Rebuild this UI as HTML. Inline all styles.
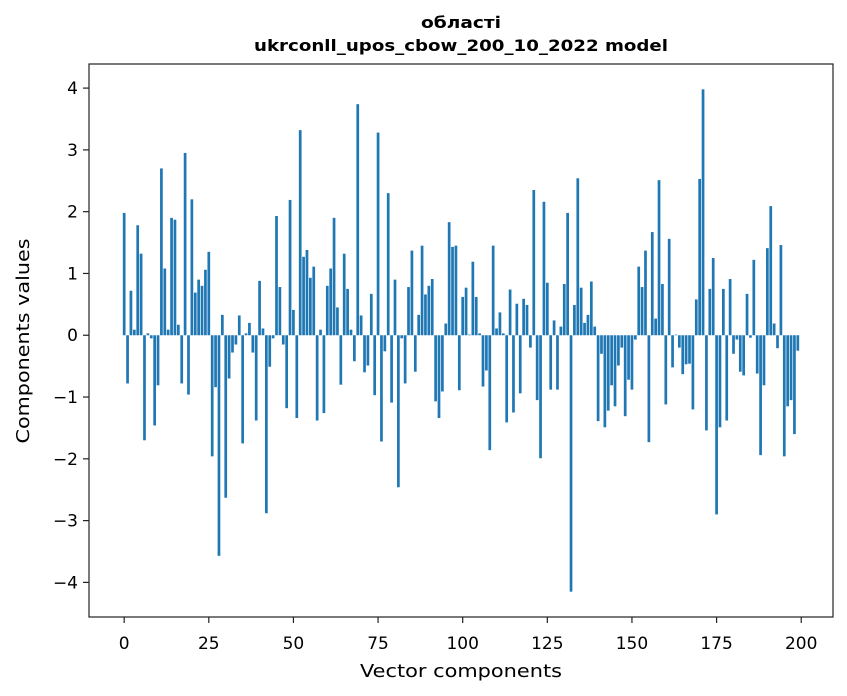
<!DOCTYPE html>
<html><head><meta charset="utf-8"><style>
body{margin:0;background:#fff;}
svg{display:block;font-family:"DejaVu Sans","Liberation Sans",sans-serif;}
</style></head><body>
<svg id="chart" width="847" height="696" viewBox="0 0 847 696" xmlns="http://www.w3.org/2000/svg">
<rect x="0" y="0" width="847" height="696" fill="#fff"/>
<text x="461" y="28" text-anchor="middle" font-size="16" font-weight="bold" textLength="80" lengthAdjust="spacingAndGlyphs">області</text>
<text x="461" y="51" text-anchor="middle" font-size="16" font-weight="bold" textLength="414" lengthAdjust="spacingAndGlyphs">ukrconll_upos_cbow_200_10_2022 model</text>
<g id="bars"></g>
<g id="xticks"></g>
<g id="yticks"></g>
<rect x="89" y="64" width="744" height="553" fill="none" stroke="#222" stroke-width="1.2"/>
<text x="461" y="677" text-anchor="middle" font-size="18" textLength="202" lengthAdjust="spacingAndGlyphs">Vector components</text>
<text transform="translate(29,341) rotate(-90)" text-anchor="middle" font-size="18" textLength="205" lengthAdjust="spacingAndGlyphs">Components values</text>
</svg>
<script>
const values = [
1.98,-0.78,0.72,0.09,1.78,1.32,-1.70,0.03,-0.05,-1.46,
-0.81,2.70,1.08,0.09,1.90,1.87,0.17,-0.78,2.95,-0.96,
2.20,0.69,0.90,0.80,1.06,1.35,-1.96,-0.84,-3.57,0.33,
-2.63,-0.70,-0.28,-0.15,0.32,-1.75,0.03,0.20,-0.28,-1.38,
0.88,0.11,-2.88,-0.51,-0.05,1.93,0.78,-0.15,-1.18,2.19,
0.41,-1.34,3.32,1.27,1.38,0.93,1.11,-1.38,0.09,-1.26,
0.80,1.08,1.90,0.45,-0.80,1.32,0.75,0.09,-0.42,3.74,
0.32,-0.60,-0.49,0.67,-0.97,3.28,-1.72,-0.26,2.30,-1.09,
0.90,-2.46,-0.05,-0.78,0.78,1.37,-0.59,0.33,1.45,0.66,
0.80,0.91,-1.07,-1.34,-0.91,0.19,1.83,1.43,1.45,-0.89,
0.62,0.77,0.01,1.19,0.62,0.03,-0.83,-0.57,-1.86,1.45,
0.11,0.37,0.03,-1.41,0.74,-1.25,0.51,-0.94,0.59,0.49,
-0.20,2.35,-1.05,-1.99,2.16,0.85,-0.88,0.24,-0.88,0.14,
0.83,1.98,-4.15,0.49,2.54,0.77,0.20,0.33,0.87,0.14,
-1.39,-0.30,-1.49,-1.22,-0.81,-1.15,-0.49,-0.20,-1.31,-0.72,
-0.88,-0.07,1.11,0.78,1.37,-1.73,1.67,0.27,2.51,0.83,
-1.12,1.56,-0.52,0.01,-0.20,-0.63,-0.47,-0.46,-1.20,0.58,
2.53,3.98,-1.54,0.75,1.25,-2.90,-1.49,0.75,-1.38,0.91,
-0.30,-0.07,-0.59,-0.65,0.67,-0.04,1.22,-0.62,-1.94,-0.81,
1.41,2.09,0.19,-0.21,1.46,-1.96,-1.15,-1.05,-1.60,-0.25
];
const xTickValues = [0,25,50,75,100,125,150,175,200];
const yTickValues = [-4,-3,-2,-1,0,1,2,3,4];

const NS = "http://www.w3.org/2000/svg";
const L=89,R=833,T=64,B=617;
const xMin=-10.39,xMax=209.39,yMin=-4.56,yMax=4.39;
function xs(v){return L+(v-xMin)/(xMax-xMin)*(R-L);}
function ys(v){return T+(yMax-v)/(yMax-yMin)*(B-T);}

const gb=document.getElementById('bars');
values.forEach((v,i)=>{
  const r=document.createElementNS(NS,'rect');
  const x0=xs(i-0.4), x1=xs(i+0.4);
  const y0=ys(Math.max(v,0)), y1=ys(Math.min(v,0));
  r.setAttribute('x',x0);r.setAttribute('width',x1-x0);
  r.setAttribute('y',y0);r.setAttribute('height',Math.max(y1-y0,0.3));
  r.setAttribute('fill','#1f77b4');
  
  
  gb.appendChild(r);
});
const gx=document.getElementById('xticks');
xTickValues.forEach(t=>{
  const x=xs(t);
  const l=document.createElementNS(NS,'line');
  l.setAttribute('x1',x);l.setAttribute('x2',x);l.setAttribute('y1',B);l.setAttribute('y2',B+6);
  l.setAttribute('stroke','#222');l.setAttribute('stroke-width','1.2');
  
  
  gx.appendChild(l);
  const tx=document.createElementNS(NS,'text');
  tx.setAttribute('x',x);tx.setAttribute('y',B+32);tx.setAttribute('text-anchor','middle');tx.setAttribute('font-size','17');
  tx.textContent=t;
  
  
  gx.appendChild(tx);
});
const gy=document.getElementById('yticks');
yTickValues.forEach(t=>{
  const y=ys(t);
  const l=document.createElementNS(NS,'line');
  l.setAttribute('x1',L-6);l.setAttribute('x2',L);l.setAttribute('y1',y);l.setAttribute('y2',y);
  l.setAttribute('stroke','#222');l.setAttribute('stroke-width','1.2');
  
  
  gy.appendChild(l);
  const tx=document.createElementNS(NS,'text');
  tx.setAttribute('x',L-11);tx.setAttribute('y',y+6);tx.setAttribute('text-anchor','end');tx.setAttribute('font-size','17');
  tx.textContent=t<0?('\u2212'+Math.abs(t)):String(t);
  
  
  gy.appendChild(tx);
});
</script>
</body></html>
